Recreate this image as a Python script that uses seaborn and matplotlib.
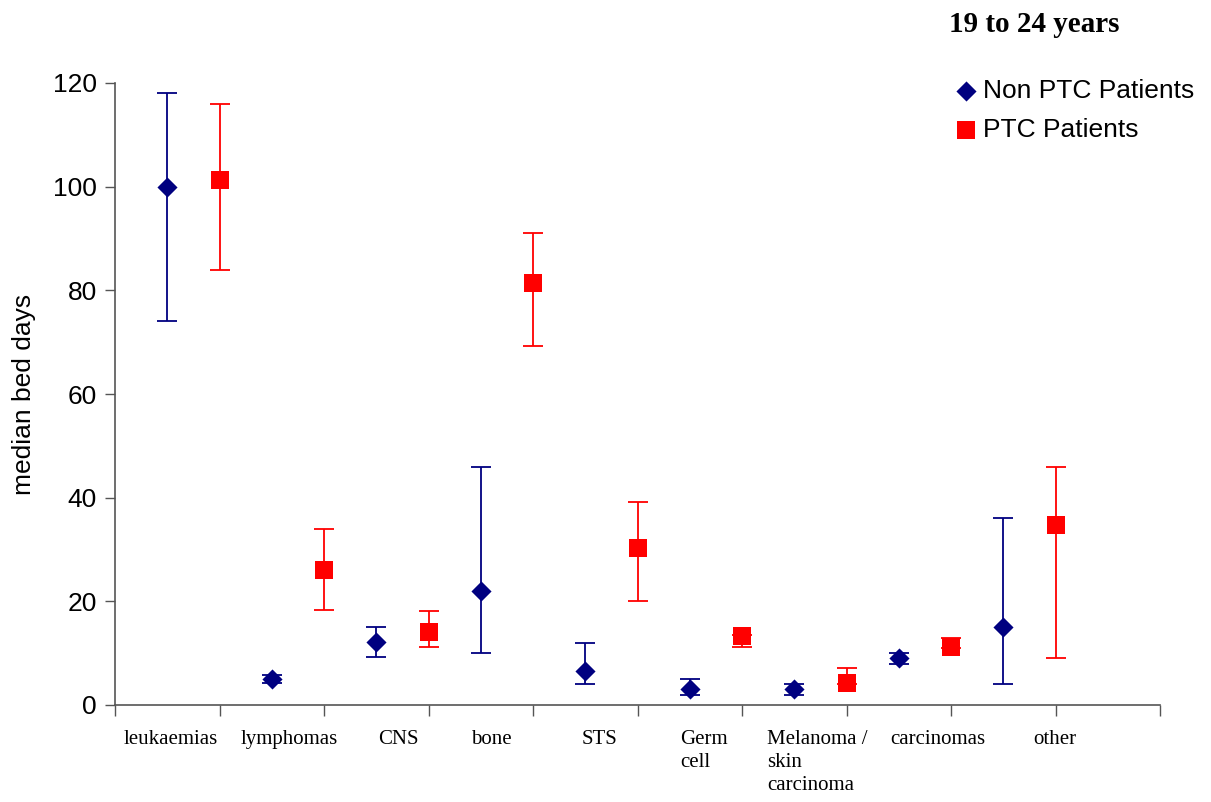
import pandas as pd
import matplotlib
matplotlib.use("Agg")
import matplotlib.pyplot as plt
import matplotlib.transforms as mtransforms
import seaborn as sns

# Data (median bed days, 19 to 24 years)
categories = ["leukaemias", "lymphomas", "CNS", "bone", "STS", "Germ\ncell",
              "Melanoma /\nskin\ncarcinoma", "carcinomas", "other"]
non_ptc_median = [100, 5, 12.2, 22, 6.5, 3, 3, 9, 15]
non_ptc_low = [74, 4.3, 9.2, 10, 4, 2, 2, 8, 4]
non_ptc_high = [118, 5.8, 15, 46, 12, 5, 4, 10, 36]
ptc_median = [101.2, 26, 14, 81.5, 30.2, 13.3, 4.2, 11.2, 34.8]
ptc_low = [84, 18.3, 11.2, 69.2, 20, 11.2, 4, 11, 9]
ptc_high = [116, 34, 18.2, 91, 39.2, 13.5, 7.2, 13, 46]

# layout: where Excel put each category label (in x data units)
label_x = [0.53, 1.67, 2.71, 3.6, 4.64, 5.64, 6.72, 7.87, 8.99]

navy = "#000080"
red = "#ff0000"

rows = []
for i, cat in enumerate(categories):
    rows.append({"pos": i + 0.5, "median": non_ptc_median[i], "low": non_ptc_low[i],
                 "high": non_ptc_high[i], "group": "Non PTC Patients"})
    rows.append({"pos": i + 1.0, "median": ptc_median[i], "low": ptc_low[i],
                 "high": ptc_high[i], "group": "PTC Patients"})
df = pd.DataFrame(rows)

sns.set_style("white")
plt.rcParams["font.family"] = ["Liberation Sans", "DejaVu Sans"]
plt.rcParams["text.color"] = "black"
plt.rcParams["axes.labelcolor"] = "black"
plt.rcParams["ytick.labelcolor"] = "black"

fig = plt.figure(figsize=(12.11, 8.02), dpi=100)
ax = fig.add_axes([115 / 1211, 97 / 802, 1045 / 1211, 622 / 802])

# error bars first
for group, color in [("Non PTC Patients", navy), ("PTC Patients", red)]:
    sub = df[df["group"] == group]
    ax.errorbar(sub["pos"], sub["median"],
                yerr=[sub["median"] - sub["low"], sub["high"] - sub["median"]],
                fmt="none", ecolor=color, elinewidth=1.3, capsize=7, capthick=1.3, zorder=2)

sns.scatterplot(data=df[df["group"] == "Non PTC Patients"], x="pos", y="median",
                marker="D", s=105, color=navy, linewidth=0, ax=ax, zorder=3,
                label="Non PTC Patients")
sns.scatterplot(data=df[df["group"] == "PTC Patients"], x="pos", y="median",
                marker="s", s=170, color=red, linewidth=0, ax=ax, zorder=3,
                label="PTC Patients")

ax.set_xlim(0, 10)
ax.set_ylim(0, 120)
ax.set_xticks(range(0, 11))
ax.set_xticklabels([])
ax.set_yticks(range(0, 121, 20))
ax.tick_params(axis="y", labelsize=19, length=7, width=1, color="#555555", direction="out",
               left=True, pad=6, labelcolor="black")
ax.tick_params(axis="x", length=8, width=1, color="#555555", direction="out", bottom=True)
sns.despine(ax=ax)
for side in ["left", "bottom"]:
    ax.spines[side].set_color("#555555")
    ax.spines[side].set_linewidth(1.2)

ax.set_xlabel("")
ax.set_ylabel("median bed days", fontsize=19, color="black")
ax.yaxis.set_label_coords(-0.076, 0.5)

# category labels in serif font below the axis
trans = mtransforms.blended_transform_factory(ax.transData, ax.transAxes)
for x, lab in zip(label_x, categories):
    ax.text(x, -0.04, lab, transform=trans, ha="center", va="top", multialignment="left",
            fontsize=15, family=["Liberation Serif", "DejaVu Serif"], linespacing=1.3,
            color="black")

fig.text(1034 / 1211, 1 - 24 / 802, "19 to 24 years", ha="center", va="center",
         fontsize=21, fontweight="bold", family=["Liberation Serif", "DejaVu Serif"],
         color="black")

leg = ax.legend(loc="upper left", bbox_to_anchor=(937 / 1211, 1 - 66 / 802),
                bbox_transform=fig.transFigure, frameon=False, fontsize=19,
                handletextpad=0.05, labelspacing=0.55, handlelength=1.2, borderpad=0)
for t in leg.get_texts():
    t.set_color("black")

fig.savefig("out.png", dpi=100)
